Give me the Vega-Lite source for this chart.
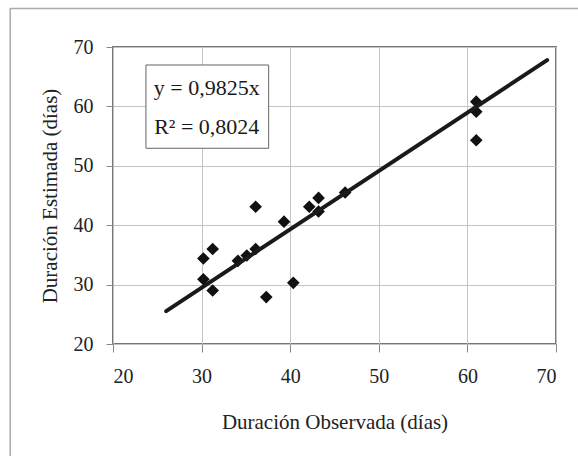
{
  "$schema": "https://vega.github.io/schema/vega-lite/v6.json",
  "autosize": {"type": "none"},
  "padding": {"left": 113, "top": 47, "right": 22, "bottom": 112},
  "width": 443,
  "height": 297,
  "background": "white",
  "data": {"values": [{}]},
  "config": {
    "view": {"stroke": "#777777", "strokeWidth": 2},
    "axis": {
      "labelFont": "Liberation Serif",
      "labelFontSize": 20,
      "labelColor": "#222222",
      "titleFont": "Liberation Serif",
      "titleFontSize": 21,
      "titleFontWeight": "normal",
      "titleColor": "#222222",
      "grid": true,
      "gridColor": "#c4c4c4",
      "gridWidth": 1,
      "domain": false,
      "tickColor": "#888888",
      "tickWidth": 1
    }
  },
  "datasets": {
    "obs": [
      {"observada": 30.2, "estimada": 34.4},
      {"observada": 31.25, "estimada": 36.0},
      {"observada": 30.2, "estimada": 30.9},
      {"observada": 31.25, "estimada": 29.0},
      {"observada": 34.1, "estimada": 34.0},
      {"observada": 35.1, "estimada": 34.9},
      {"observada": 36.1, "estimada": 36.0},
      {"observada": 36.1, "estimada": 43.1},
      {"observada": 37.3, "estimada": 27.9},
      {"observada": 39.3, "estimada": 40.6},
      {"observada": 40.35, "estimada": 30.3},
      {"observada": 42.15, "estimada": 43.1},
      {"observada": 43.2, "estimada": 44.6},
      {"observada": 43.2, "estimada": 42.3},
      {"observada": 46.2, "estimada": 45.5},
      {"observada": 61.0, "estimada": 60.8},
      {"observada": 61.0, "estimada": 59.1},
      {"observada": 61.0, "estimada": 54.3}
    ],
    "fit": [
      {"observada": 26, "estimada": 25.545},
      {"observada": 69, "estimada": 67.79}
    ]
  },
  "layer": [
    {
      "data": {"name": "obs"},
      "mark": {"type": "point", "shape": "diamond", "filled": true, "size": 160, "color": "#111111", "opacity": 1},
      "encoding": {
        "x": {
          "field": "observada", "type": "quantitative",
          "scale": {"domain": [20, 70], "nice": false, "zero": false},
          "axis": {
            "values": [20, 30, 40, 50, 60, 70],
            "grid": true,
            "tickSize": 8,
            "labelPadding": 14,
            "title": "Duración Observada (días)",
            "titleX": 221.5,
            "titleY": 84,
            "titleAlign": "center",
            "titleBaseline": "alphabetic"
          }
        },
        "y": {
          "field": "estimada", "type": "quantitative",
          "scale": {"domain": [20, 70], "nice": false, "zero": false},
          "axis": {
            "values": [20, 30, 40, 50, 60, 70],
            "grid": true,
            "tickSize": 7,
            "labelPadding": 13,
            "title": "Duración Estimada (días)",
            "titleX": -63,
            "titleY": 148.5,
            "titleAngle": -90,
            "titleAlign": "center",
            "titleBaseline": "middle"
          }
        }
      }
    },
    {
      "mark": {"type": "rect", "fill": null, "stroke": "#aaaaaa", "strokeWidth": 1.5},
      "encoding": {
        "x": {"datum": 8.4, "type": "quantitative"},
        "x2": {"datum": 74},
        "y": {"datum": 76.5, "type": "quantitative"},
        "y2": {"datum": 0}
      }
    },
    {
      "data": {"name": "fit"},
      "mark": {"type": "line", "color": "#1a1a1a", "strokeWidth": 4, "strokeCap": "round"},
      "encoding": {
        "x": {"field": "observada", "type": "quantitative"},
        "y": {"field": "estimada", "type": "quantitative"}
      }
    },
    {
      "mark": {"type": "rect", "fill": "white", "stroke": "#666666", "strokeWidth": 1},
      "encoding": {
        "x": {"datum": 23.72, "type": "quantitative"},
        "x2": {"datum": 37.57},
        "y": {"datum": 66.97, "type": "quantitative"},
        "y2": {"datum": 52.95}
      }
    },
    {
      "mark": {"type": "text", "text": "y = 0,9825x", "font": "Liberation Serif", "fontSize": 22, "color": "#1a1a1a", "align": "center", "baseline": "alphabetic"},
      "encoding": {
        "x": {"datum": 30.58, "type": "quantitative"},
        "y": {"datum": 61.92, "type": "quantitative"}
      }
    },
    {
      "mark": {"type": "text", "text": "R² = 0,8024", "font": "Liberation Serif", "fontSize": 22, "color": "#1a1a1a", "align": "center", "baseline": "alphabetic"},
      "encoding": {
        "x": {"datum": 30.58, "type": "quantitative"},
        "y": {"datum": 55.35, "type": "quantitative"}
      }
    }
  ]
}
